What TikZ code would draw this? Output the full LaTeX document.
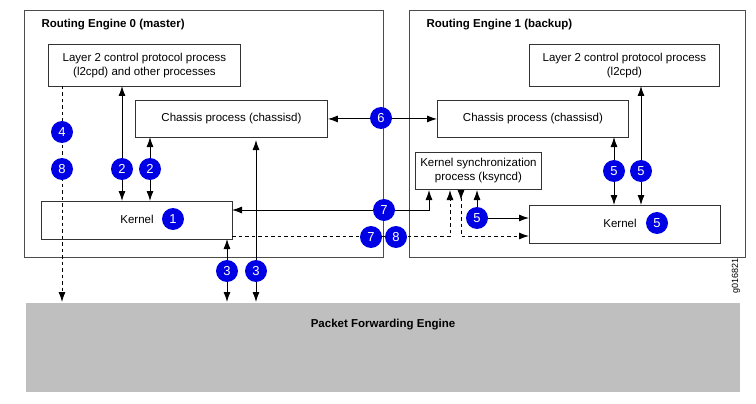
\documentclass[tikz,border=0pt]{standalone}
\usepackage{fontspec}
\setmainfont{Liberation Sans}
\usetikzlibrary{arrows.meta}
\begin{document}
\begin{tikzpicture}[x=1pt,y=-1pt,
  box/.style={draw=black!80,line width=0.9pt,fill=white,inner sep=0pt,align=center,font=\fontsize{11.5}{14}\selectfont},
  re/.style={draw=black!70,line width=0.9pt},
  num/.style={circle,fill=blue!90!black,text=white,inner sep=0pt,minimum size=22pt,font=\fontsize{13}{15}\selectfont},
  tip/.style={Latex[length=10pt,width=7pt]},
  ar/.style={line width=0.9pt,-{Latex[length=10pt,width=7pt]}},
  dar/.style={line width=0.9pt,{Latex[length=10pt,width=7pt]}-{Latex[length=10pt,width=7pt]}},
  dsh/.style={dash pattern=on 3.5pt off 3pt}]
\useasboundingbox (0,0) rectangle (756,404);
\fill[white] (0,0) rectangle (756,404);
% containers
\draw[re] (24,10) rectangle (383,257);
\draw[re] (409,10) rectangle (745,257);
\node[anchor=west,font=\bfseries\fontsize{11.5}{14}\selectfont] (t0) at (38,25) {Routing Engine 0 (master)};
\node[anchor=west,font=\bfseries\fontsize{11.5}{14}\selectfont] (t1) at (423,25) {Routing Engine 1 (backup)};
\node[fill=black!25,minimum width=714pt,minimum height=89pt,inner sep=0pt,anchor=north west] (pfe) at (26,303) {};
\node[font=\bfseries\fontsize{11.5}{14}\selectfont] (pfet) at (383,325) {Packet Forwarding Engine};
\node[rotate=90,font=\fontsize{9}{11}\selectfont] (gid) at (736,276) {g016821};
% boxes
\node[box,minimum width=192pt,minimum height=42pt,anchor=north west] (l2a) at (48,44) {Layer 2 control protocol process\\(l2cpd) and other processes};
\node[box,minimum width=192pt,minimum height=37pt,anchor=north west] (cha) at (135,100) {Chassis process (chassisd)};
\node[box,minimum width=191pt,minimum height=38pt,anchor=north west] (ka) at (41,201) {};
\node (kat) at (137,219) {\fontsize{11.5}{14}\selectfont Kernel};
\node[num] (n1) at (173,219) {1};
\node[box,minimum width=190pt,minimum height=42pt,anchor=north west] (l2b) at (529,44) {Layer 2 control protocol process\\(l2cpd)};
\node[box,minimum width=191pt,minimum height=37pt,anchor=north west] (chb) at (437,100) {Chassis process (chassisd)};
\node[box,minimum width=126pt,minimum height=37pt,anchor=north west] (ks) at (415,152) {Kernel synchronization\\process (ksyncd)};
\node[box,minimum width=191pt,minimum height=38pt,anchor=north west] (kb) at (529,205) {};
\node (kbt) at (620,223) {\fontsize{11.5}{14}\selectfont Kernel};
% coordinates
\coordinate (a4t) at (62,86);  \coordinate (a4b) at (62,302);
\coordinate (a2t) at (122,86); \coordinate (a2b) at (122,201);
\coordinate (b2t) at (150,137);\coordinate (b2b) at (150,201);
\coordinate (a3t) at (227,239);\coordinate (a3b) at (227,302);
\coordinate (b3t) at (256,140);\coordinate (b3b) at (256,302);
\coordinate (k7a) at (232,210);\coordinate (k7c) at (429,210);\coordinate (k7d) at (429,190);
\coordinate (d8a) at (232,236);\coordinate (d8c) at (450,236);\coordinate (d8d) at (450,190);
\coordinate (e8a) at (461,190);\coordinate (e8c) at (461,236);\coordinate (e8d) at (529,236);
\coordinate (f5u) at (477,190);\coordinate (f5r) at (529,218);
\coordinate (g5t) at (614,137);\coordinate (g5b) at (614,205);
\coordinate (h5t) at (641,86);\coordinate (h5b) at (641,205);
% connectors
\draw[ar,dsh] (a4t) -- (a4b);
\draw[dar] (a2t) -- (a2b);
\draw[dar] (b2t) -- (b2b);
\draw[dar] (a3t) -- (a3b);
\draw[dar] (b3t) -- (b3b);
\draw[dar] (cha.east) -- (chb.west);
\draw[dar] (k7a) -- (k7c) -- (k7d);
\draw[ar,dsh] (d8a) -- (d8c) -- (d8d);
\draw[line width=0.9pt,dsh,{Latex[length=10pt,width=7pt,reversed]}-{Latex[length=10pt,width=7pt]}] (e8a) -- (e8c) -- (e8d);
\node[num] (n5c) at (477,218) {5};
\draw[ar] (n5c) -- (f5u);
\draw[ar] (n5c) -- (f5r);
\draw[dar] (g5t) -- (g5b);
\draw[dar] (h5t) -- (h5b);
% numbers
\node[num] (n4) at (62,132) {4};
\node[num] (n8a) at (62,169) {8};
\node[num] (n2a) at (122,169) {2};
\node[num] (n2b) at (150,169) {2};
\node[num] (n3a) at (227,271) {3};
\node[num] (n3b) at (256,271) {3};
\node[num] (n6) at (381,118) {6};
\node[num] (n7a) at (384,210) {7};
\node[num] (n7b) at (371,237) {7};
\node[num] (n8b) at (396,237) {8};
\node[num] (n5a) at (614,171) {5};
\node[num] (n5b) at (641,171) {5};
\node[num] (n5k) at (657,223) {5};
\end{tikzpicture}
\end{document}
